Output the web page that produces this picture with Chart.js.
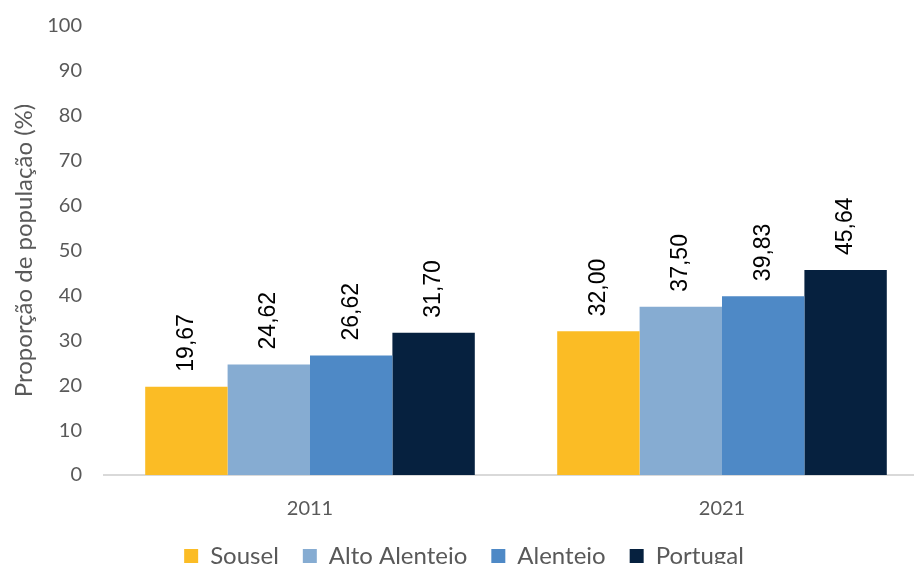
<!DOCTYPE html>
<html>
<head>
<meta charset="utf-8">
<script src="https://cdn.jsdelivr.net/npm/chart.js@4/dist/chart.umd.min.js"></script>
<style>
html,body{margin:0;padding:0;background:#fff;overflow:hidden;}
#wrap{width:914px;height:564px;position:relative;overflow:hidden;}
#c{position:absolute;left:0;top:-8px;}
</style>
</head>
<body>
<div id="wrap"><canvas id="c" width="928" height="586"></canvas></div>
<script>
const categories = ['2011', '2021'];
const seriesNames = ['Sousel', 'Alto Alentejo', 'Alentejo', 'Portugal'];
const sousel = [19.67, 32.00];
const altoAlentejo = [24.62, 37.50];
const alentejo = [26.62, 39.83];
const portugal = [31.70, 45.64];
const yTicks = [0, 10, 20, 30, 40, 50, 60, 70, 80, 90, 100];
const colors = ['#FBBC25', '#86ACD2', '#4E89C6', '#06213F'];

const valueLabels = {
  id: 'valueLabels',
  afterDatasetsDraw(chart) {
    const ctx = chart.ctx;
    ctx.save();
    ctx.font = '23px "Liberation Sans", Arial, sans-serif';
    ctx.fillStyle = '#000';
    ctx.textAlign = 'left';
    ctx.textBaseline = 'middle';
    chart.data.datasets.forEach((ds, i) => {
      const meta = chart.getDatasetMeta(i);
      meta.data.forEach((bar, j) => {
        const txt = ds.data[j].toFixed(2).replace('.', ',');
        ctx.save();
        ctx.translate(bar.x, bar.y - 15);
        ctx.rotate(-Math.PI / 2);
        ctx.fillText(txt, 0, 0);
        ctx.restore();
      });
    });
    ctx.restore();
  }
};

new Chart(document.getElementById('c'), {
  type: 'bar',
  data: {
    labels: categories,
    datasets: [
      { label: seriesNames[0], data: sousel, backgroundColor: colors[0] },
      { label: seriesNames[1], data: altoAlentejo, backgroundColor: colors[1] },
      { label: seriesNames[2], data: alentejo, backgroundColor: colors[2] },
      { label: seriesNames[3], data: portugal, backgroundColor: colors[3] }
    ]
  },
  options: {
    responsive: false,
    animation: false,
    devicePixelRatio: 1,
    layout: { padding: { top: 7, right: 0, left: 0, bottom: 0 } },
    datasets: { bar: { categoryPercentage: 0.8, barPercentage: 1.0 } },
    plugins: {
      legend: {
        position: 'bottom',
        labels: {
          font: { family: 'Lato, "Open Sans", sans-serif', size: 24 },
          color: '#595959',
          boxWidth: 14,
          boxHeight: 14,
          padding: 24
        }
      },
      tooltip: { enabled: false }
    },
    scales: {
      x: {
        grid: { display: false, drawTicks: false },
        border: { display: true, color: '#D9D9D9', width: 2 },
        ticks: {
          font: { family: 'Lato, "Open Sans", sans-serif', size: 20 },
          color: '#595959',
          padding: 22
        },
        afterFit(s) { s.height = 45; }
      },
      y: {
        min: 0,
        max: 100,
        afterBuildTicks(s) { s.ticks = yTicks.map(v => ({ value: v })); },
        grid: { display: false, drawTicks: false },
        border: { display: false },
        ticks: {
          font: { family: 'Lato, "Open Sans", sans-serif', size: 20 },
          color: '#595959',
          padding: 22
        },
        title: {
          display: true,
          text: 'Proporção de população (%)',
          font: { family: 'Lato, "Open Sans", sans-serif', size: 24 },
          color: '#595959',
          padding: { top: 10, bottom: 0 }
        },
        afterFit(s) { s.width = 104; }
      }
    }
  },
  plugins: [valueLabels]
});
</script>
</body>
</html>
